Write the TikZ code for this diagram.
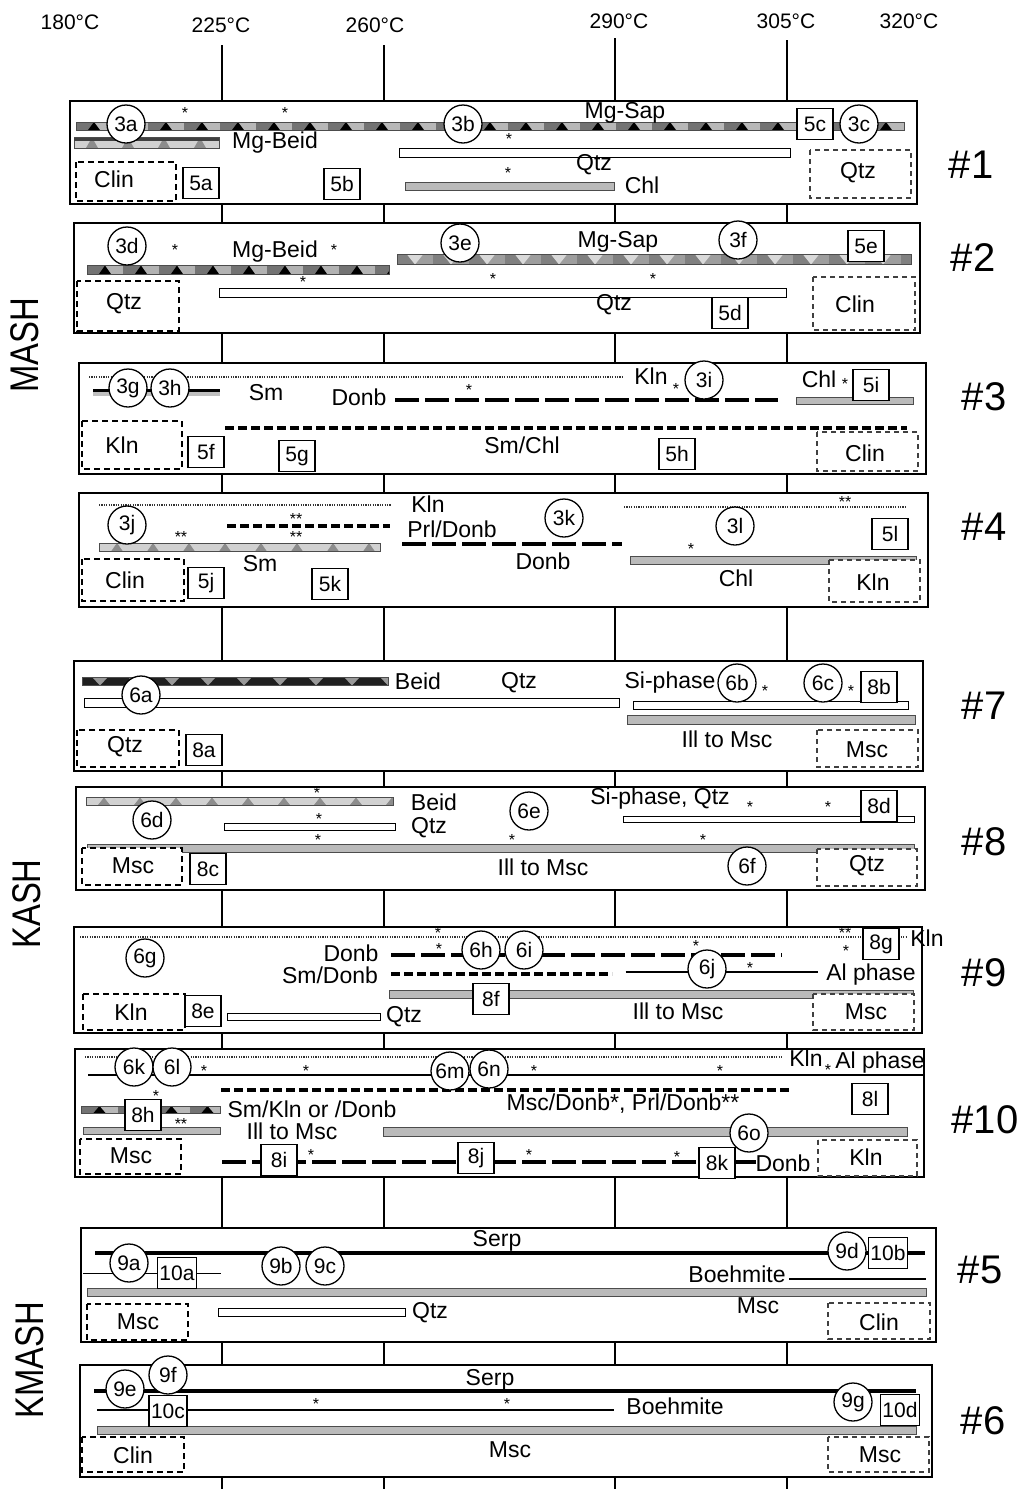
\documentclass[tikz,border=0pt]{standalone}
\usepackage{fontspec}
\setmainfont{Liberation Sans}
\newfontfamily\condfont[FakeStretch=0.82]{Liberation Sans}
\usetikzlibrary{calc}
\tikzset{
 txt/.style={font=\fontsize{23}{25}\selectfont, inner sep=0pt},
 ast/.style={font=\fontsize{16}{16}\selectfont, inner sep=0pt},
 cir/.style={circle, draw, line width=1.3pt, fill=white, minimum size=38pt, inner sep=0pt, font=\fontsize{21}{22}\selectfont},
 sq/.style={rectangle, draw, line width=1.5pt, fill=white, minimum width=36pt, minimum height=31pt, inner sep=2pt, font=\fontsize{21}{22}\selectfont},
 panel/.style={draw, line width=2pt, fill=white},
 dboxL/.style={draw, line width=1.8pt, dash pattern=on 6pt off 4pt, fill=white},
 dboxR/.style={draw=black!75, line width=1.2pt, dash pattern=on 5pt off 4pt, fill=white},
 wbar/.style={draw, line width=1pt, fill=white},
 gbar/.style={draw=black!70, line width=1pt, fill=black!27},
 dotln/.style={line width=2.5pt, dash pattern=on 1.2pt off 1.2pt, black!80},
 ldash/.style={line width=3.5pt, dash pattern=on 24pt off 6pt},
 sdash/.style={line width=4pt, dash pattern=on 9pt off 4pt},
 thinln/.style={line width=1.2pt},
 serpln/.style={line width=4pt},
 tline/.style={line width=1.2pt},
 hdr/.style={font=\fontsize{21}{22}\selectfont, inner sep=0pt},
 numlbl/.style={font=\fontsize{40}{42}\selectfont, inner sep=0pt},
 sidelbl/.style={font=\condfont\fontsize{40}{40}\selectfont, inner sep=0pt, rotate=90},
}
\newcommand{\bandup}[7]{%
 \begin{scope}
  \clip (#1,#3) rectangle (#2,#4);
  \fill[#5] (#1,#3) rectangle (#2,#4);
  \pgfmathtruncatemacro{\bnper}{(#2-#1)/36}
  \foreach \bk in {0,...,\bnper}{
    \pgfmathsetmacro{\bxa}{#1+36*\bk}
    \fill[#6] (\bxa+18,#3) rectangle (\bxa+36,#4);
    \fill[#7] (\bxa+12,#4) -- (\bxa+18,#3) -- (\bxa+24,#4) -- cycle;
  }
 \end{scope}
 \draw[line width=0.6pt, black!70] (#1,#3) rectangle (#2,#4);
}
\newcommand{\banddown}[7]{%
 \begin{scope}
  \clip (#1,#3) rectangle (#2,#4);
  \fill[#5] (#1,#3) rectangle (#2,#4);
  \pgfmathtruncatemacro{\bnper}{(#2-#1)/36}
  \foreach \bk in {0,...,\bnper}{
    \pgfmathsetmacro{\bxa}{#1+36*\bk}
    \fill[#6] (\bxa+18,#3) rectangle (\bxa+36,#4);
    \fill[#7] (\bxa+10,#3) -- (\bxa+18,#4) -- (\bxa+26,#3) -- cycle;
  }
 \end{scope}
 \draw[line width=0.6pt, black!70] (#1,#3) rectangle (#2,#4);
}
\newcommand{\mytxt}[3]{\node[txt] (#1) at (#2) {#3};}
\newcommand{\astr}[3]{\node[ast] (#1) at (#2) {#3};}
\newcommand{\mycir}[3]{\node[cir] (#1) at (#2) {#3};}
\newcommand{\mysq}[3]{\node[sq] (#1) at (#2) {#3};}
\begin{document}
\begin{tikzpicture}[x=1pt,y=-1pt]
\useasboundingbox (0,0) rectangle (1022,1489);
% header
\node[hdr] (h180) at (70,22) {180°C};
\node[hdr] (h225) at (221,25) {225°C};
\node[hdr] (h260) at (375,25) {260°C};
\node[hdr] (h290) at (619,21) {290°C};
\node[hdr] (h305) at (786,21) {305°C};
\node[hdr] (h320) at (909,21) {320°C};
\coordinate (l225a) at (222,45); \coordinate (l225b) at (222,1489);
\coordinate (l260a) at (384,45); \coordinate (l260b) at (384,1489);
\coordinate (l290a) at (615,38); \coordinate (l290b) at (615,1489);
\coordinate (l305a) at (787,40); \coordinate (l305b) at (787,1489);
\draw[tline] (l225a) -- (l225b);
\draw[tline] (l260a) -- (l260b);
\draw[tline] (l290a) -- (l290b);
\draw[tline] (l305a) -- (l305b);
% side labels
\node[sidelbl] (sMASH) at (25,345) {MASH};
\node[sidelbl] (sKASH) at (27,904) {KASH};
\node[sidelbl] (sKMASH) at (30,1360) {KMASH};

% ===== #1 =====
\draw[panel] (70,101) rectangle (917,204);
\bandup{76}{904}{122}{130}{black!55}{black!28}{black}
\bandup{74}{219}{137.5}{148}{black!18}{black!18}{black!45}
\fill[black!75] (74,137.5) rectangle (219,140.5);
\draw[wbar] (399,148) rectangle (790,157);
\draw[gbar] (405,182) rectangle (614,190);
\draw[dboxL] (76,162) rectangle (176,201);
\draw[dboxR] (810,150) rectangle (911,198);
\astr{a1a}{185,113}{*} \astr{a1b}{285,113}{*}
\mytxt{t1a}{625,113}{Mg-Sap}
\mytxt{t1b}{275,143}{Mg-Beid}
\astr{a1c}{509,139}{*}
\mytxt{t1c}{594,165}{Qtz}
\astr{a1d}{508,173}{*}
\mytxt{t1d}{642,185}{Chl}
\mytxt{t1e}{114,179}{Clin}
\mytxt{t1f}{858,173}{Qtz}
\mycir{c3a}{126,124}{3a} \mycir{c3b}{463,124}{3b} \mycir{c3c}{859,124}{3c}
\mysq{b5c}{815,124}{5c} \mysq{b5a}{201,183}{5a} \mysq{b5b}{342,184}{5b}
\node[numlbl] (n1) at (971,165) {\#1};

% ===== #2 =====
\draw[panel] (74,223) rectangle (920,333);
\bandup{87}{389}{265.5}{274}{black!55}{black!30}{black}
\banddown{397}{911}{254.5}{264.5}{black!50}{black!38}{black!15}
\draw[wbar] (219,288) rectangle (786,297);
\draw[dboxL] (77,281) rectangle (179,331);
\draw[dboxR] (813,277) rectangle (915,330);
\astr{a2a}{175,250}{*}
\mytxt{t2a}{275,252}{Mg-Beid}
\astr{a2b}{334,250}{*}
\mytxt{t2b}{618,242}{Mg-Sap}
\astr{a2c}{303,282}{*} \astr{a2d}{493,279}{*} \astr{a2e}{653,279}{*}
\mytxt{t2c}{614,305}{Qtz}
\mytxt{t2d}{124,304}{Qtz}
\mytxt{t2e}{855,304}{Clin}
\mycir{c3d}{127,246}{3d} \mycir{c3e}{460,243}{3e} \mycir{c3f}{738,240}{3f}
\mysq{b5e}{866,246}{5e} \mysq{b5d}{730,313}{5d}
\node[numlbl] (n2) at (973,258) {\#2};

% ===== #3 =====
\draw[panel] (79,363) rectangle (926,474);
\coordinate (d3a) at (89,377); \coordinate (d3b) at (624,377);
\draw[dotln] (d3a) -- (d3b);
\fill[black!25] (93,390) rectangle (220,396);
\fill[black] (93,389) rectangle (220,392);
\coordinate (d3c) at (395,400); \coordinate (d3d) at (778,400);
\draw[ldash] (d3c) -- (d3d);
\draw[gbar] (796,397.5) rectangle (913,404.5);
\coordinate (d3e) at (225,428); \coordinate (d3f) at (907,428);
\draw[sdash] (d3e) -- (d3f);
\draw[dboxL] (82,421) rectangle (182,469);
\draw[dboxR] (817,432) rectangle (918,471);
\mytxt{t3a}{651,376}{Kln} \astr{a3a}{676,389}{*}
\mytxt{t3b}{266,393}{Sm}
\mytxt{t3c}{359,397}{Donb} \astr{a3b}{469,390}{*}
\mytxt{t3d}{819,379}{Chl} \astr{a3c}{845,384}{*}
\mytxt{t3e}{522,445}{Sm/Chl}
\mytxt{t3f}{122,445}{Kln}
\mytxt{t3g}{865,453}{Clin}
\mycir{c3g}{128,388}{3g} \mycir{c3h}{170,388}{3h} \mycir{c3i}{704,380}{3i}
\mysq{b5i}{871,385}{5i} \mysq{b5f}{206,452}{5f} \mysq{b5g}{297,456}{5g} \mysq{b5h}{677,454}{5h}
\node[numlbl] (n3) at (984,397) {\#3};

% ===== #4 =====
\draw[panel] (79,493) rectangle (928,607);
\coordinate (d4a) at (99,505); \coordinate (d4b) at (391,505);
\draw[dotln] (d4a) -- (d4b);
\coordinate (d4c) at (624,507); \coordinate (d4d) at (906,507);
\draw[dotln] (d4c) -- (d4d);
\coordinate (d4e) at (227,525.5); \coordinate (d4f) at (390,525.5);
\draw[sdash] (d4e) -- (d4f);
\bandup{99}{380.5}{543}{551.5}{black!18}{black!18}{black!45}
\coordinate (d4g) at (402,544); \coordinate (d4h) at (622,544);
\draw[ldash] (d4g) -- (d4h);
\draw[gbar] (630,556.5) rectangle (916,564);
\draw[dboxL] (82,559) rectangle (184,601);
\draw[dboxR] (829,560) rectangle (920,602);
\mytxt{t4a}{428,504}{Kln}
\mytxt{t4b}{452,529}{Prl/Donb}
\astr{a4a}{845,502}{**} \astr{a4b}{181,537}{**}
\astr{a4c}{296,519}{**} \astr{a4d}{296,537}{**}
\mytxt{t4c}{260,564}{Sm}
\mytxt{t4d}{543,561}{Donb}
\astr{a4e}{691,549}{*}
\mytxt{t4e}{736,578}{Chl}
\mytxt{t4f}{125,580}{Clin}
\mytxt{t4g}{873,582}{Kln}
\mycir{c3j}{127,525}{3j} \mycir{c3k}{564,518}{3k} \mycir{c3l}{735,526}{3l}
\mysq{b5l}{890,534}{5l} \mysq{b5j}{206,583}{5j} \mysq{b5k}{330,584}{5k}
\node[numlbl] (n4) at (984,527) {\#4};

% ===== #7 =====
\draw[panel] (74,661) rectangle (923,771);
\banddown{82}{388}{677}{685.5}{black!88}{black!88}{black!40}
\draw[wbar] (84,698) rectangle (619,707.5);
\draw[wbar] (633,701) rectangle (908,709.5);
\draw[gbar] (627,715) rectangle (915,724);
\draw[dboxL] (77,730) rectangle (179,767);
\draw[dboxR] (817,730) rectangle (918,767);
\mytxt{t7a}{418,681}{Beid}
\mytxt{t7b}{519,683}{Qtz}
\mytxt{t7c}{670,683}{Si-phase}
\astr{a7a}{765,691}{*} \astr{a7b}{851,691}{*}
\mytxt{t7d}{727,739}{Ill to Msc}
\mytxt{t7e}{125,747}{Qtz}
\mytxt{t7f}{867,750}{Msc}
\mycir{c6a}{141,695}{6a} \mycir{c6b}{737,683}{6b} \mycir{c6c}{823,683}{6c}
\mysq{b8b}{879,687}{8b} \mysq{b8a}{204,750}{8a}
\node[numlbl] (n7) at (984,706) {\#7};

% ===== #8 =====
\draw[panel] (76,787) rectangle (925,890);
\bandup{86}{393}{797.5}{805}{black!18}{black!18}{black!45}
\draw[wbar] (224,823.5) rectangle (395,830);
\draw[wbar] (623,816) rectangle (914,822);
\draw[gbar] (87.5,844.5) rectangle (914.5,852);
\draw[dboxL] (82,848) rectangle (182,885);
\draw[dboxR] (817,849) rectangle (917,886);
\astr{a8a}{317,793}{*}
\mytxt{t8a}{434,802}{Beid}
\astr{a8b}{319,819}{*}
\mytxt{t8b}{429,828}{Qtz}
\mytxt{t8c}{660,799}{Si-phase, Qtz}
\astr{a8c}{750,807}{*} \astr{a8d}{828,807}{*}
\astr{a8e}{318,840}{*} \astr{a8f}{512,840}{*} \astr{a8g}{703,840}{*}
\mytxt{t8d}{543,867}{Ill to Msc}
\mytxt{t8e}{133,866}{Msc}
\mytxt{t8f}{867,866}{Qtz}
\mycir{c6d}{152,820}{6d} \mycir{c6e}{529,811}{6e} \mycir{c6f}{747,866}{6f}
\mysq{b8d}{879,806}{8d} \mysq{b8c}{208,869}{8c}
\node[numlbl] (n8) at (984,842) {\#8};

% ===== #9 =====
\draw[panel] (74,927) rectangle (922,1033);
\coordinate (d9a) at (80,937); \coordinate (d9b) at (907,937);
\draw[dotln] (d9a) -- (d9b);
\coordinate (d9c) at (391,955); \coordinate (d9d) at (782,955);
\draw[ldash] (d9c) -- (d9d);
\coordinate (d9e) at (391,974); \coordinate (d9f) at (612,974);
\draw[sdash] (d9e) -- (d9f);
\coordinate (d9g) at (625.5,972); \coordinate (d9h) at (818,972);
\draw[thinln] (d9g) -- (d9h);
\draw[gbar] (389,990) rectangle (913,998);
\draw[wbar] (227,1013.5) rectangle (380,1020);
\draw[dboxL] (83,994) rectangle (185,1030);
\draw[dboxR] (813,994) rectangle (914,1030);
\astr{a9a}{845,933}{**} \astr{a9b}{438,933}{*}
\mytxt{t9a}{927,938}{Kln}
\mytxt{t9b}{351,953}{Donb}
\astr{a9c}{439,949}{*} \astr{a9d}{696,946}{*} \astr{a9e}{846,951}{*}
\mytxt{t9c}{330,975}{Sm/Donb}
\astr{a9f}{750,968}{*}
\mytxt{t9d}{871,975}{Al phase}
\mytxt{t9e}{678,1011}{Ill to Msc}
\mytxt{t9f}{404,1017}{Qtz}
\mytxt{t9g}{131,1012}{Kln}
\mytxt{t9h}{866,1012}{Msc}
\mycir{c6g}{145,958}{6g} \mycir{c6h}{481,950}{6h} \mycir{c6i}{524,950}{6i} \mycir{c6j}{707,969}{6j}
\mysq{b8g}{881,944}{8g} \mysq{b8f}{491,999}{8f} \mysq{b8e}{203,1011}{8e}
\node[numlbl] (n9) at (984,973) {\#9};

% ===== #10 =====
\draw[panel] (75,1049) rectangle (924,1177);
\coordinate (d10a) at (85,1057); \coordinate (d10b) at (783,1057);
\draw[dotln] (d10a) -- (d10b);
\coordinate (d10c) at (88,1075); \coordinate (d10d) at (923,1075);
\draw[thinln] (d10c) -- (d10d);
\coordinate (d10e) at (221,1089.5); \coordinate (d10f) at (792,1089.5);
\draw[sdash] (d10e) -- (d10f);
\bandup{81.5}{220.5}{1106}{1113}{black!55}{black!28}{black}
\draw[gbar] (83,1127) rectangle (220.5,1134);
\draw[gbar] (383,1127.5) rectangle (907,1136);
\coordinate (d10g) at (222,1162); \coordinate (d10h) at (757,1162);
\draw[ldash] (d10g) -- (d10h);
\draw[dboxL] (80,1139) rectangle (181,1174);
\draw[dboxR] (818,1140) rectangle (917,1176);
\mytxt{t10a}{806,1058}{Kln} \astr{a10a}{828,1070}{*}
\mytxt{t10b}{880,1063}{Al phase}
\astr{a10b}{204,1071}{*} \astr{a10c}{306,1071}{*} \astr{a10d}{534,1071}{*} \astr{a10e}{720,1071}{*}
\astr{a10f}{156,1096}{*}
\mytxt{t10c}{312,1109}{Sm/Kln or /Donb}
\mytxt{t10d}{623,1104}{Msc/Donb*, Prl/Donb**}
\astr{a10g}{181,1124}{**}
\mytxt{t10e}{292,1131}{Ill to Msc}
\astr{a10h}{311,1155}{*} \astr{a10i}{529,1155}{*} \astr{a10j}{677,1157}{*}
\mytxt{t10f}{783,1163}{Donb}
\mytxt{t10g}{131,1156}{Msc}
\mytxt{t10h}{866,1157}{Kln}
\mycir{c6k}{134,1067}{6k} \mycir{c6l}{172,1067}{6l} \mycir{c6m}{450,1071}{6m} \mycir{c6n}{489,1069}{6n} \mycir{c6o}{749,1133}{6o}
\mysq{b8l}{870,1099}{8l} \mysq{b8h}{143,1115}{8h} \mysq{b8i}{279,1160}{8i} \mysq{b8j}{476,1158}{8j} \mysq{b8k}{717,1163}{8k}
\node[numlbl] (n10) at (985,1120) {\#10};

% ===== #5 =====
\draw[panel] (81,1228) rectangle (936,1342);
\coordinate (d5a) at (95,1252.5); \coordinate (d5b) at (925,1252.5);
\draw[serpln] (d5a) -- (d5b);
\coordinate (d5c) at (83,1273.5); \coordinate (d5d) at (221,1273.5);
\draw[thinln] (d5c) -- (d5d);
\coordinate (d5e) at (789,1279); \coordinate (d5f) at (926,1279);
\draw[thinln] (d5e) -- (d5f);
\draw[gbar] (87.5,1288) rectangle (926,1296);
\draw[wbar] (218,1308) rectangle (405,1316);
\draw[dboxL] (87,1304) rectangle (188,1340);
\draw[dboxR] (828,1303) rectangle (930,1339);
\mytxt{t5a}{497,1241}{Serp}
\mytxt{t5b}{737,1274}{Boehmite}
\mytxt{t5c}{430,1313}{Qtz}
\mytxt{t5d}{758,1306}{Msc}
\mytxt{t5e}{138,1322}{Msc}
\mytxt{t5f}{879,1322}{Clin}
\mycir{c9a}{129,1263}{9a} \mycir{c9b}{281,1266}{9b} \mycir{c9c}{325,1266}{9c} \mycir{c9d}{847,1251}{9d}
\mysq{b10a}{177,1273}{10a} \mysq{b10b}{888,1253}{10b}
\node[numlbl] (n5) at (980,1270) {\#5};

% ===== #6 =====
\draw[panel] (80,1365) rectangle (932,1477);
\coordinate (d6a) at (94,1390.5); \coordinate (d6b) at (916,1390.5);
\draw[serpln] (d6a) -- (d6b);
\coordinate (d6c) at (97,1410); \coordinate (d6d) at (614,1410);
\draw[thinln] (d6c) -- (d6d);
\draw[gbar] (97,1426.5) rectangle (916,1434);
\draw[dboxL] (82,1437) rectangle (184,1472);
\draw[dboxR] (828,1437) rectangle (929,1472);
\mytxt{t6a}{490,1380}{Serp}
\astr{a6a}{316,1404}{*} \astr{a6b}{507,1404}{*}
\mytxt{t6b}{675,1406}{Boehmite}
\mytxt{t6c}{510,1450}{Msc}
\mytxt{t6d}{133,1455}{Clin}
\mytxt{t6e}{880,1455}{Msc}
\mycir{c9e}{125,1389}{9e} \mycir{c9f}{168,1375}{9f} \mycir{c9g}{853,1402}{9g}
\mysq{b10c}{168,1411}{10c} \mysq{b10d}{900,1410}{10d}
\node[numlbl] (n6) at (983,1421) {\#6};
\end{tikzpicture}
\end{document}
